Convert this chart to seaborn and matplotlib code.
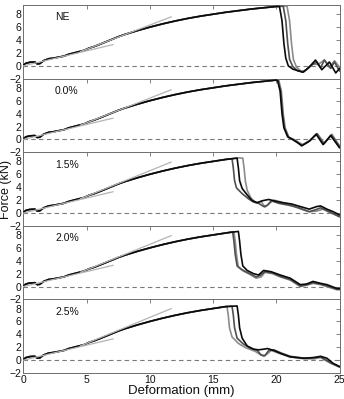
import numpy as np
import pandas as pd
import matplotlib
matplotlib.use("Agg")
import matplotlib.pyplot as plt
import seaborn as sns

sns.set_theme(style="white")
plt.rcParams['font.family'] = ['Liberation Sans', 'DejaVu Sans']

# ---- data ----
panels = ["NE", "0.0%", "1.5%", "2.0%", "2.5%"]
series_names = ["light", "mid", "dark"]

# shared loading branch (deformation mm, force kN)
rise_x = [0.0, 0.2, 0.5, 0.9, 1.1, 1.3, 1.6, 2.0, 2.4, 2.8, 3.2, 3.6, 4.0, 4.4, 4.8,
          5.2, 5.6, 6.0, 6.5, 7.0, 7.5, 8.0, 9.0, 10.0, 11.0, 12.0, 13.0, 14.0,
          15.0, 16.0, 17.0, 18.0, 19.0, 20.0]
rise_y = [0.1, 0.4, 0.55, 0.6, 0.3, 0.35, 0.8, 1.1, 1.2, 1.35, 1.5, 1.8, 2.0, 2.2, 2.4,
          2.75, 3.0, 3.3, 3.7, 4.1, 4.5, 4.85, 5.45, 6.0, 6.5, 6.95, 7.35, 7.7,
          8.0, 8.3, 8.55, 8.8, 9.0, 9.2]

# post-peak branches: panel -> series -> (x list, y list)
post_ne_light_x = [20.85, 21.05, 21.2, 21.35, 21.6, 22.0, 22.4, 22.9, 23.3, 23.8, 24.2, 24.6, 25.0]
post_ne_light_y = [9.25, 7.0, 3.5, 1.0, -0.2, -0.9, -0.6, 0.3, 0.2, 0.9, -0.2, 0.8, -0.2]
post_ne_mid_x = [20.55, 20.75, 20.9, 21.05, 21.3, 21.7, 22.2, 22.7, 23.2, 23.5, 23.8, 24.3, 24.6, 25.0]
post_ne_mid_y = [9.25, 7.0, 3.5, 1.0, -0.1, -0.8, -0.9, 0.0, 0.6, -0.3, 0.9, -0.4, 0.6, -0.8]
post_ne_dark_x = [20.25, 20.45, 20.6, 20.75, 20.95, 21.3, 21.8, 22.1, 22.6, 23.1, 23.6, 24.2, 24.7, 25.0]
post_ne_dark_y = [9.2, 7.0, 3.5, 1.2, 0.0, -0.5, -0.8, -1.0, -0.2, 0.9, -0.6, 0.6, -1.1, -0.4]

post_00_light_x = [20.2, 20.4, 20.55, 20.7, 21.0, 21.4, 21.8, 22.1, 22.7, 23.25, 23.8, 24.4, 25.0]
post_00_light_y = [9.15, 7.5, 4.0, 1.8, 0.3, 0.0, -0.5, -0.8, -0.1, 0.9, -0.6, 0.8, -1.0]
post_00_mid_x = [20.15, 20.35, 20.5, 20.65, 20.95, 21.35, 21.75, 22.05, 22.65, 23.2, 23.75, 24.35, 25.0]
post_00_mid_y = [9.1, 7.5, 4.0, 1.8, 0.4, -0.1, -0.6, -0.9, -0.2, 0.9, -0.7, 0.7, -1.1]
post_00_dark_x = [20.1, 20.3, 20.45, 20.6, 20.9, 21.3, 21.7, 22.0, 22.6, 23.15, 23.7, 24.3, 25.0]
post_00_dark_y = [9.1, 7.5, 4.0, 1.8, 0.4, 0.0, -0.5, -1.0, -0.3, 0.8, -0.8, 0.6, -1.3]

post_15_light_x = [17.35, 17.45, 17.55, 17.7, 18.0, 18.4, 18.8, 19.1, 19.4, 19.8, 20.4, 21.1, 21.8, 22.6, 23.2, 23.7, 24.3, 25.0]
post_15_light_y = [8.5, 7.0, 5.0, 3.5, 2.3, 1.6, 1.8, 0.9, 1.4, 2.0, 1.7, 1.3, 0.7, 0.2, 0.3, 0.6, 0.0, -0.5]
post_15_mid_x = [16.5, 16.6, 16.7, 16.85, 17.3, 17.8, 18.2, 18.6, 19.0, 19.3, 19.6, 20.2, 21.0, 21.8, 22.6, 23.1, 23.5, 24.2, 25.0]
post_15_mid_y = [8.4, 7.0, 5.0, 3.9, 3.0, 2.2, 1.7, 1.5, 1.0, 1.2, 1.9, 1.5, 1.2, 0.8, 0.2, 0.5, 0.8, 0.2, -0.6]
post_15_dark_x = [16.9, 17.0, 17.1, 17.3, 17.7, 18.1, 18.5, 18.9, 19.4, 20.0, 20.5, 21.2, 21.9, 22.6, 23.2, 23.5, 24.0, 24.5, 25.0]
post_15_dark_y = [8.5, 7.0, 5.0, 3.8, 2.8, 1.9, 1.6, 1.9, 2.1, 1.8, 1.6, 1.4, 1.0, 0.6, 1.0, 1.1, 0.6, 0.2, -0.3]

post_20_light_x = [16.65, 16.75, 16.85, 17.0, 17.4, 17.9, 18.4, 18.8, 19.1, 19.7, 20.3, 21.1, 21.9, 22.4, 22.9, 23.5, 24.0, 24.8, 25.0]
post_20_light_y = [8.5, 7.0, 5.0, 3.0, 2.4, 1.9, 1.3, 1.5, 2.2, 2.0, 1.5, 1.0, 0.0, 0.2, 0.5, 0.3, 0.0, -0.5, -0.5]
post_20_mid_x = [16.55, 16.65, 16.75, 16.9, 17.3, 17.8, 18.4, 18.7, 19.1, 19.7, 20.3, 21.1, 21.9, 22.4, 22.9, 23.5, 24.0, 24.8, 25.0]
post_20_mid_y = [8.5, 7.0, 5.0, 3.2, 2.6, 2.1, 1.5, 1.7, 2.3, 2.1, 1.6, 1.1, 0.1, 0.3, 0.6, 0.4, 0.1, -0.4, -0.4]
post_20_dark_x = [17.0, 17.1, 17.2, 17.35, 17.7, 18.2, 18.6, 19.0, 19.6, 20.3, 21.1, 21.9, 22.4, 22.9, 23.5, 24.0, 24.8, 25.0]
post_20_dark_y = [8.55, 7.0, 5.0, 3.2, 2.5, 2.0, 1.8, 2.5, 2.3, 1.8, 1.3, 0.3, 0.4, 0.8, 0.5, 0.3, -0.3, -0.3]

post_25_light_x = [16.1, 16.2, 16.3, 16.5, 17.0, 17.6, 18.3, 18.7, 19.0, 19.3, 19.6, 20.3, 21.1, 22.2, 23.0, 23.5, 24.3, 25.0]
post_25_light_y = [8.3, 7.0, 5.0, 3.6, 2.6, 1.9, 1.4, 0.9, 0.6, 1.0, 1.5, 1.0, 0.5, 0.2, 0.2, 0.4, -0.5, -1.1]
post_25_mid_x = [16.5, 16.6, 16.7, 16.9, 17.4, 17.9, 18.5, 18.8, 19.1, 19.4, 19.8, 20.4, 21.1, 22.2, 23.0, 23.5, 24.3, 25.0]
post_25_mid_y = [8.35, 7.0, 5.0, 3.4, 2.5, 1.9, 1.5, 0.8, 0.7, 1.5, 1.6, 1.1, 0.6, 0.3, 0.4, 0.5, -0.4, -1.0]
post_25_dark_x = [16.9, 17.0, 17.1, 17.3, 17.7, 18.2, 18.6, 19.0, 19.3, 19.8, 20.4, 21.1, 22.2, 23.0, 23.5, 24.0, 24.5, 25.0]
post_25_dark_y = [8.4, 7.0, 5.0, 3.4, 2.2, 1.7, 1.6, 1.7, 1.8, 1.5, 1.0, 0.5, 0.3, 0.4, 0.6, 0.3, -0.5, -1.0]

post = {
    "NE": {"light": (post_ne_light_x, post_ne_light_y), "mid": (post_ne_mid_x, post_ne_mid_y),
           "dark": (post_ne_dark_x, post_ne_dark_y)},
    "0.0%": {"light": (post_00_light_x, post_00_light_y), "mid": (post_00_mid_x, post_00_mid_y),
             "dark": (post_00_dark_x, post_00_dark_y)},
    "1.5%": {"light": (post_15_light_x, post_15_light_y), "mid": (post_15_mid_x, post_15_mid_y),
             "dark": (post_15_dark_x, post_15_dark_y)},
    "2.0%": {"light": (post_20_light_x, post_20_light_y), "mid": (post_20_mid_x, post_20_mid_y),
             "dark": (post_20_dark_x, post_20_dark_y)},
    "2.5%": {"light": (post_25_light_x, post_25_light_y), "mid": (post_25_mid_x, post_25_mid_y),
             "dark": (post_25_dark_x, post_25_dark_y)},
}

# stiffness tangent lines (start/end points) per panel
tan1_x = [0.0, 7.1]
tan1_y = [0.0, 3.3]
tan2_x = [4.5, 11.7]
tan2_y_end = [7.6, 7.7, 7.9, 7.9, 8.0]
tan2_y_start = 2.2

x_ticks = [0, 5, 10, 15, 20, 25]
y_ticks = [-2, 0, 2, 4, 6, 8]

palette = {"light": "#8c8c8c", "mid": "#505050", "dark": "#0a0a0a"}

# ---- figure ----
fig, axes = plt.subplots(5, 1, figsize=(3.44, 3.99), dpi=100, sharex=True)
fig.subplots_adjust(left=0.068, right=0.987, top=0.987, bottom=0.065, hspace=0)

frame_col = "#6e6e6e"
for i, (ax, name) in enumerate(zip(axes, panels)):
    rows = []
    for s in series_names:
        px, py = post[name][s]
        xs = [x for x in rise_x if x < px[0]] + list(px)
        ys = [y for x, y in zip(rise_x, rise_y) if x < px[0]] + list(py)
        for j, (x, y) in enumerate(zip(xs, ys)):
            rows.append({"series": s, "order": j, "x": x, "y": y})
    df = pd.DataFrame(rows)
    ax.axhline(0, color="#7a7a7a", lw=0.8, ls=(0, (4, 3)), zorder=1)
    sns.lineplot(data=df, x="x", y="y", hue="series", hue_order=series_names,
                 palette=palette, sort=False, estimator=None, units="series",
                 lw=1.2, legend=False, ax=ax, zorder=3)
    tdf = pd.DataFrame({"x": tan1_x + tan2_x,
                        "y": tan1_y + [tan2_y_start, tan2_y_end[i]],
                        "seg": ["a", "a", "b", "b"]})
    sns.lineplot(data=tdf, x="x", y="y", units="seg", estimator=None, sort=False,
                 color="#b4b4b4", lw=0.9, legend=False, ax=ax, zorder=4)
    ax.set_xlim(0, 25)
    ax.set_ylim(-2, 9.4)
    ax.set_yticks(y_ticks)
    ax.set_xticks(x_ticks)
    ax.set_xlabel("")
    ax.set_ylabel("")
    ax.tick_params(direction="in", length=3, width=0.6, top=True, right=True,
                   labelsize=7.5, pad=1.5, color=frame_col, labelcolor="#111111")
    for sp in ax.spines.values():
        sp.set_color(frame_col)
        sp.set_linewidth(0.7)
    ax.text(2.5, 7.5, name, fontsize=7.5, ha="left", va="center", color="#111111")

axes[-1].set_xlabel("Deformation (mm)", fontsize=9.5, labelpad=0, color="#111111")
fig.text(0.017, 0.525, "Force (kN)", rotation=90, fontsize=9, ha="center", va="center",
         color="#111111")

fig.savefig("out.png", dpi=100)
